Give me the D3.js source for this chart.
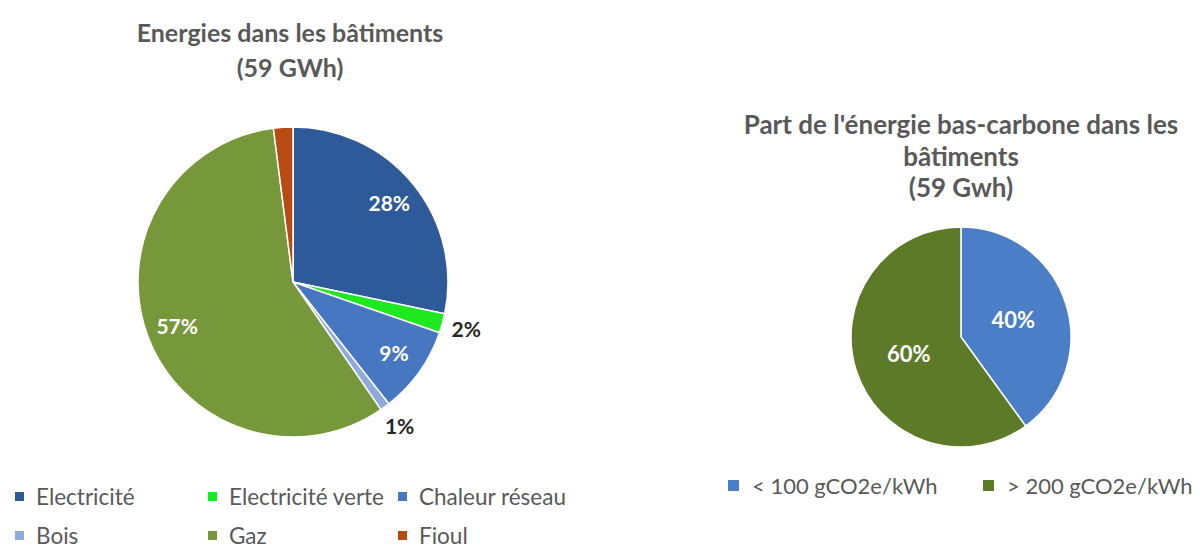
<!DOCTYPE html>
<html lang="fr">
<head>
    <meta charset="utf-8" />
    <script src="https://d3js.org/d3.v7.min.js"></script>
    <style>
        body { margin: 0; background: #fff; }
        text { font-family: Lato, "Open Sans", sans-serif; }
    </style>
</head>
<body>
    <script>
        var width = 1200, height = 549;

        // données : énergies dans les bâtiments
        var energyLabels = ["Electricité", "Electricité verte", "Chaleur réseau", "Bois", "Gaz", "Fioul"];
        var energyValues = [28, 2, 9, 1, 57, 2];
        var energyColors = ["#2e5a9a", "#1ee81e", "#4677c0", "#8ea9db", "#76983a", "#b84a12"];
        var energyOutside = [false, true, false, true, false, null]; // null = pas d'étiquette

        // données : part bas-carbone
        var carbonLabels = ["< 100 gCO2e/kWh", "> 200 gCO2e/kWh"];
        var carbonValues = [40, 60];
        var carbonColors = ["#4a7ec6", "#5c7a28"];

        var titleLeft = ["Energies dans les bâtiments", "(59 GWh)"];
        var titleRight = ["Part de l'énergie bas-carbone dans les", "bâtiments", "(59 Gwh)"];

        var svg = d3.select("body").append("svg")
            .attr("width", width)
            .attr("height", height);

        var pie = d3.pie().sort(null).value(function (d) { return d; });

        // ---------- graphique de gauche ----------
        var R1 = 155;
        var g1 = svg.append("g").attr("transform", "translate(293,282)");
        var arc1 = d3.arc().innerRadius(0).outerRadius(R1);
        var inLab1 = d3.arc().innerRadius(R1 * 0.8).outerRadius(R1 * 0.8);
        var outLab1 = d3.arc().innerRadius(R1 * 1.16).outerRadius(R1 * 1.16);

        var arcs1 = pie(energyValues);
        g1.selectAll("path")
            .data(arcs1)
            .join("path")
            .attr("d", arc1)
            .attr("fill", function (d, i) { return energyColors[i]; })
            .attr("stroke", "#fff")
            .attr("stroke-width", 1.5);

        g1.selectAll("text")
            .data(arcs1.filter(function (d, i) { return energyOutside[i] !== null; }))
            .join("text")
            .attr("transform", function (d) {
                var o = energyOutside[d.index];
                return "translate(" + (o ? outLab1 : inLab1).centroid(d) + ")";
            })
            .attr("text-anchor", "middle")
            .attr("dy", "0.35em")
            .attr("font-size", 21)
            .attr("font-weight", "bold")
            .attr("fill", function (d) { return energyOutside[d.index] ? "#262626" : "#fff"; })
            .text(function (d) { return d.data + "%"; });

        svg.append("text")
            .attr("text-anchor", "middle")
            .attr("font-size", 25)
            .attr("font-weight", "bold")
            .attr("fill", "#595959")
            .selectAll("tspan")
            .data(titleLeft)
            .join("tspan")
            .attr("x", 290)
            .attr("y", function (d, i) { return 42 + i * 35; })
            .text(function (d) { return d; });

        // légende gauche (3 colonnes x 2 lignes)
        var legCols = [15, 208, 398];
        var leg1 = svg.append("g").selectAll("g")
            .data(energyLabels)
            .join("g")
            .attr("transform", function (d, i) {
                return "translate(" + legCols[i % 3] + "," + (497 + Math.floor(i / 3) * 39) + ")";
            });
        leg1.append("rect")
            .attr("x", 0).attr("y", -5)
            .attr("width", 9).attr("height", 9)
            .attr("fill", function (d, i) { return energyColors[i]; });
        leg1.append("text")
            .attr("x", 21)
            .attr("dy", "0.35em")
            .attr("font-size", 22.5)
            .attr("fill", "#595959")
            .text(function (d) { return d; });

        // ---------- graphique de droite ----------
        var R2 = 110;
        var g2 = svg.append("g").attr("transform", "translate(961,337)");
        var arc2 = d3.arc().innerRadius(0).outerRadius(R2);
        var lab2 = d3.arc().innerRadius(R2 * 0.5).outerRadius(R2 * 0.5);
        var arcs2 = pie(carbonValues);

        g2.selectAll("path")
            .data(arcs2)
            .join("path")
            .attr("d", arc2)
            .attr("fill", function (d, i) { return carbonColors[i]; })
            .attr("stroke", "#fff")
            .attr("stroke-width", 1.5);

        g2.selectAll("text")
            .data(arcs2)
            .join("text")
            .attr("transform", function (d) { return "translate(" + lab2.centroid(d) + ")"; })
            .attr("text-anchor", "middle")
            .attr("dy", "0.35em")
            .attr("font-size", 22)
            .attr("font-weight", "bold")
            .attr("fill", "#fff")
            .text(function (d) { return d.data + "%"; });

        svg.append("text")
            .attr("text-anchor", "middle")
            .attr("font-size", 26)
            .attr("font-weight", "bold")
            .attr("fill", "#595959")
            .selectAll("tspan")
            .data(titleRight)
            .join("tspan")
            .attr("x", 961)
            .attr("y", function (d, i) { return 134 + i * 31.5; })
            .text(function (d) { return d; });

        var legX2 = [728, 983];
        var leg2 = svg.append("g").selectAll("g")
            .data(carbonLabels)
            .join("g")
            .attr("transform", function (d, i) { return "translate(" + legX2[i] + ",486)"; });
        leg2.append("rect")
            .attr("x", 0).attr("y", -6)
            .attr("width", 11).attr("height", 11)
            .attr("fill", function (d, i) { return carbonColors[i]; });
        leg2.append("text")
            .attr("x", 24)
            .attr("dy", "0.35em")
            .attr("font-size", 22)
            .attr("fill", "#595959")
            .text(function (d) { return d; });
    </script>
</body>
</html>
